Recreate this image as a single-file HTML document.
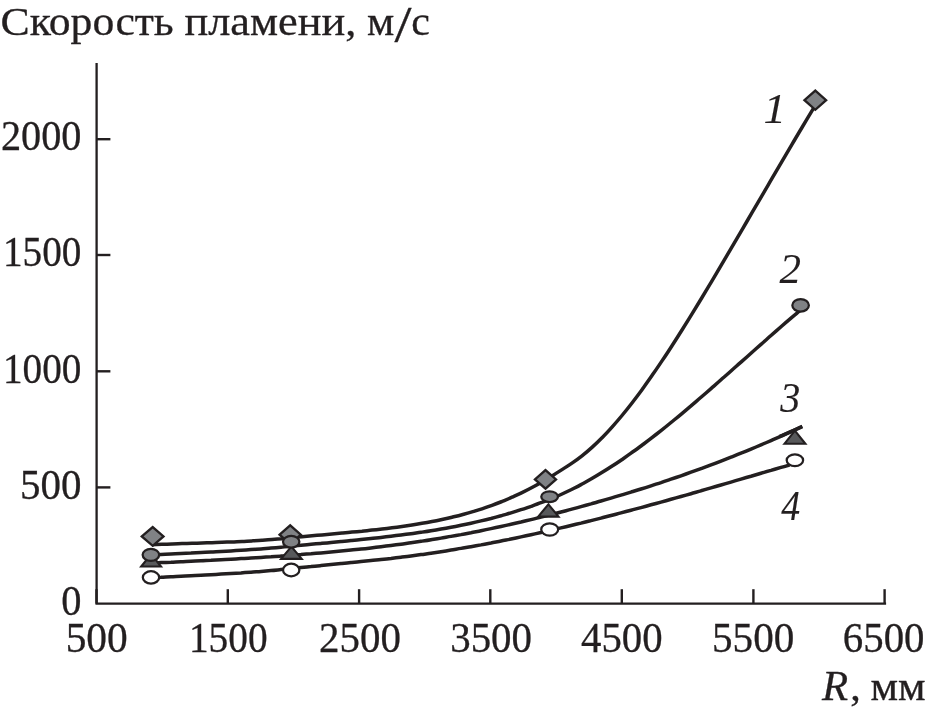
<!DOCTYPE html>
<html lang="ru"><head><meta charset="utf-8"><title>Скорость пламени</title>
<style>
html,body{margin:0;padding:0;background:#fff;}
svg{display:block;}
text{font-family:"Liberation Serif",serif;fill:#231f20;stroke:#231f20;stroke-width:0.3px;}
</style></head>
<body>
<svg width="926" height="713" viewBox="0 0 926 713">
<rect width="926" height="713" fill="#fff"/>
<path d="M96.6,62.9 V603.7 H886.1" fill="none" stroke="#231f20" stroke-width="2.3" stroke-linejoin="miter"/>
<line x1="96.6" y1="139.2" x2="110.4" y2="139.2" stroke="#231f20" stroke-width="2.4"/>
<line x1="96.6" y1="255.0" x2="110.4" y2="255.0" stroke="#231f20" stroke-width="2.4"/>
<line x1="96.6" y1="371.3" x2="110.4" y2="371.3" stroke="#231f20" stroke-width="2.4"/>
<line x1="96.6" y1="487.4" x2="110.4" y2="487.4" stroke="#231f20" stroke-width="2.4"/>
<line x1="96.5" y1="589.2" x2="96.5" y2="603.7" stroke="#231f20" stroke-width="2.4"/>
<line x1="227.8" y1="589.2" x2="227.8" y2="603.7" stroke="#231f20" stroke-width="2.4"/>
<line x1="359.1" y1="589.2" x2="359.1" y2="603.7" stroke="#231f20" stroke-width="2.4"/>
<line x1="490.3" y1="589.2" x2="490.3" y2="603.7" stroke="#231f20" stroke-width="2.4"/>
<line x1="621.8" y1="589.2" x2="621.8" y2="603.7" stroke="#231f20" stroke-width="2.4"/>
<line x1="753.4" y1="589.2" x2="753.4" y2="603.7" stroke="#231f20" stroke-width="2.4"/>
<line x1="884.6" y1="589.2" x2="884.6" y2="603.7" stroke="#231f20" stroke-width="2.4"/>
<path d="M152.0,544.7 C153.7,544.6 158.7,544.4 162.0,544.3 C165.3,544.2 168.7,544.1 172.0,544.0 C175.3,543.9 178.7,543.8 182.0,543.6 C185.3,543.5 188.7,543.4 192.0,543.3 C195.3,543.2 198.7,543.1 202.0,543.0 C205.3,542.9 208.7,542.8 212.0,542.7 C215.3,542.5 218.7,542.4 222.0,542.3 C225.3,542.2 228.7,542.0 232.0,541.9 C235.3,541.7 238.7,541.6 242.0,541.4 C245.3,541.2 248.7,541.1 252.0,540.9 C255.3,540.7 258.7,540.5 262.0,540.2 C265.3,540.0 268.7,539.8 272.0,539.5 C275.3,539.2 278.8,538.9 282.0,538.7 C285.2,538.4 289.8,537.9 291.5,537.7 C293.2,537.6 290.2,537.9 292.0,537.7 C293.8,537.5 298.7,537.0 302.0,536.7 C305.3,536.4 308.7,536.1 312.0,535.8 C315.3,535.5 318.7,535.2 322.0,534.9 C325.3,534.6 328.7,534.3 332.0,534.0 C335.3,533.7 338.7,533.4 342.0,533.1 C345.3,532.8 348.7,532.5 352.0,532.1 C355.3,531.8 358.7,531.5 362.0,531.2 C365.3,530.8 368.7,530.5 372.0,530.1 C375.3,529.8 378.7,529.4 382.0,529.0 C385.3,528.6 388.7,528.2 392.0,527.8 C395.3,527.4 398.7,526.9 402.0,526.5 C405.3,526.0 408.7,525.5 412.0,525.0 C415.3,524.5 418.7,523.9 422.0,523.3 C425.3,522.8 428.7,522.2 432.0,521.5 C435.3,520.9 438.7,520.2 442.0,519.5 C445.3,518.8 448.7,518.0 452.0,517.2 C455.3,516.4 458.7,515.6 462.0,514.7 C465.3,513.8 468.7,512.9 472.0,511.9 C475.3,510.9 478.7,509.9 482.0,508.8 C485.3,507.7 488.7,506.5 492.0,505.3 C495.3,504.1 498.7,502.8 502.0,501.5 C505.3,500.1 508.7,498.7 512.0,497.2 C515.3,495.7 518.7,494.2 522.0,492.6 C525.3,491.0 528.7,489.3 532.0,487.5 C535.3,485.7 539.1,483.6 542.0,481.9 C544.9,480.2 547.9,478.4 549.6,477.3 C551.3,476.3 549.9,477.1 552.0,475.9 C554.1,474.6 558.7,471.8 562.0,469.6 C565.3,467.5 568.7,465.4 572.0,463.1 C575.3,460.8 578.7,458.4 582.0,455.8 C585.3,453.2 588.7,450.4 592.0,447.4 C595.3,444.4 598.7,441.2 602.0,437.8 C605.3,434.4 608.7,430.9 612.0,427.1 C615.3,423.4 618.7,419.5 622.0,415.5 C625.3,411.5 628.7,407.3 632.0,403.0 C635.3,398.7 638.7,394.2 642.0,389.7 C645.3,385.1 648.7,380.4 652.0,375.6 C655.3,370.8 658.7,365.9 662.0,360.9 C665.3,356.0 668.7,350.9 672.0,345.7 C675.3,340.6 678.7,335.3 682.0,330.0 C685.3,324.7 688.7,319.3 692.0,313.9 C695.3,308.5 698.7,303.0 702.0,297.5 C705.3,291.9 708.7,286.4 712.0,280.8 C715.3,275.2 718.7,269.5 722.0,263.9 C725.3,258.2 728.7,252.6 732.0,246.9 C735.3,241.2 738.7,235.5 742.0,229.8 C745.3,224.1 748.7,218.4 752.0,212.7 C755.3,207.0 758.7,201.3 762.0,195.6 C765.3,189.8 768.7,184.1 772.0,178.4 C775.3,172.7 778.7,167.0 782.0,161.3 C785.3,155.7 788.7,150.0 792.0,144.4 C795.3,138.7 798.4,133.5 802.0,127.5 C805.6,121.4 811.7,111.3 813.6,108.1" fill="none" stroke="#231f20" stroke-width="3.5" stroke-linecap="butt"/>
<path d="M151.0,555.1 C152.7,555.0 157.7,554.7 161.0,554.5 C164.3,554.4 167.7,554.2 171.0,554.0 C174.3,553.9 177.7,553.7 181.0,553.5 C184.3,553.4 187.7,553.2 191.0,553.1 C194.3,552.9 197.7,552.7 201.0,552.5 C204.3,552.4 207.7,552.2 211.0,552.0 C214.3,551.8 217.7,551.7 221.0,551.5 C224.3,551.3 227.7,551.1 231.0,550.9 C234.3,550.7 237.7,550.5 241.0,550.3 C244.3,550.1 247.7,549.8 251.0,549.6 C254.3,549.4 257.7,549.1 261.0,548.9 C264.3,548.6 267.7,548.4 271.0,548.1 C274.3,547.8 277.7,547.5 281.0,547.2 C284.3,546.9 289.2,546.4 291.0,546.3 C292.8,546.1 290.3,546.3 292.0,546.2 C293.7,546.0 297.8,545.6 301.0,545.3 C304.2,545.0 307.7,544.6 311.0,544.3 C314.3,544.0 317.7,543.7 321.0,543.4 C324.3,543.1 327.7,542.8 331.0,542.4 C334.3,542.1 337.7,541.8 341.0,541.5 C344.3,541.2 347.7,540.9 351.0,540.5 C354.3,540.2 357.7,539.9 361.0,539.5 C364.3,539.2 367.7,538.8 371.0,538.5 C374.3,538.1 377.7,537.8 381.0,537.4 C384.3,537.0 387.7,536.6 391.0,536.2 C394.3,535.8 397.7,535.4 401.0,535.0 C404.3,534.6 407.7,534.1 411.0,533.7 C414.3,533.2 417.7,532.8 421.0,532.3 C424.3,531.8 427.7,531.3 431.0,530.7 C434.3,530.2 437.7,529.6 441.0,529.1 C444.3,528.5 447.7,527.9 451.0,527.3 C454.3,526.7 457.7,526.0 461.0,525.3 C464.3,524.7 467.7,524.0 471.0,523.2 C474.3,522.5 477.7,521.7 481.0,520.9 C484.3,520.1 487.7,519.3 491.0,518.5 C494.3,517.6 497.7,516.7 501.0,515.8 C504.3,514.8 507.7,513.9 511.0,512.9 C514.3,511.9 517.7,510.8 521.0,509.7 C524.3,508.7 527.7,507.5 531.0,506.4 C534.3,505.2 537.9,503.9 541.0,502.7 C544.1,501.6 547.9,500.0 549.6,499.4 C551.3,498.7 549.1,499.6 551.0,498.8 C552.9,498.0 557.7,496.0 561.0,494.5 C564.3,493.0 567.7,491.4 571.0,489.8 C574.3,488.1 577.7,486.4 581.0,484.6 C584.3,482.8 587.7,481.0 591.0,479.1 C594.3,477.2 597.7,475.2 601.0,473.1 C604.3,471.1 607.7,469.0 611.0,466.8 C614.3,464.7 617.7,462.5 621.0,460.2 C624.3,457.9 627.7,455.6 631.0,453.2 C634.3,450.9 637.7,448.4 641.0,446.0 C644.3,443.5 647.7,441.0 651.0,438.4 C654.3,435.8 657.7,433.2 661.0,430.6 C664.3,428.0 667.7,425.3 671.0,422.5 C674.3,419.8 677.7,417.1 681.0,414.3 C684.3,411.5 687.7,408.7 691.0,405.9 C694.3,403.0 697.7,400.2 701.0,397.3 C704.3,394.4 707.7,391.5 711.0,388.6 C714.3,385.7 717.7,382.8 721.0,379.8 C724.3,376.9 727.7,374.0 731.0,371.0 C734.3,368.0 737.7,365.1 741.0,362.1 C744.3,359.2 747.7,356.2 751.0,353.2 C754.3,350.3 757.7,347.3 761.0,344.4 C764.3,341.4 767.7,338.5 771.0,335.5 C774.3,332.6 777.7,329.7 781.0,326.8 C784.3,323.9 787.8,320.9 791.0,318.2 C794.2,315.4 798.9,311.4 800.5,310.1" fill="none" stroke="#231f20" stroke-width="3.5" stroke-linecap="butt"/>
<path d="M151.0,563.1 C152.7,563.0 157.7,562.8 161.0,562.6 C164.3,562.5 167.7,562.3 171.0,562.2 C174.3,562.0 177.7,561.9 181.0,561.7 C184.3,561.5 187.7,561.4 191.0,561.2 C194.3,561.1 197.7,560.9 201.0,560.7 C204.3,560.6 207.7,560.4 211.0,560.3 C214.3,560.1 217.7,559.9 221.0,559.7 C224.3,559.6 227.7,559.4 231.0,559.2 C234.3,559.0 237.7,558.8 241.0,558.6 C244.3,558.4 247.7,558.3 251.0,558.0 C254.3,557.8 257.7,557.6 261.0,557.4 C264.3,557.2 267.7,557.0 271.0,556.8 C274.3,556.5 277.7,556.3 281.0,556.1 C284.3,555.8 289.2,555.5 291.0,555.3 C292.8,555.2 290.3,555.4 292.0,555.3 C293.7,555.1 297.8,554.8 301.0,554.6 C304.2,554.3 307.7,554.0 311.0,553.8 C314.3,553.5 317.7,553.2 321.0,552.9 C324.3,552.6 327.7,552.3 331.0,552.0 C334.3,551.7 337.7,551.4 341.0,551.1 C344.3,550.8 347.7,550.4 351.0,550.1 C354.3,549.7 357.7,549.4 361.0,549.0 C364.3,548.7 367.7,548.3 371.0,547.9 C374.3,547.5 377.7,547.1 381.0,546.7 C384.3,546.3 387.7,545.9 391.0,545.5 C394.3,545.1 397.7,544.6 401.0,544.2 C404.3,543.7 407.7,543.3 411.0,542.8 C414.3,542.3 417.7,541.8 421.0,541.3 C424.3,540.8 427.7,540.3 431.0,539.7 C434.3,539.2 437.7,538.7 441.0,538.1 C444.3,537.5 447.7,537.0 451.0,536.4 C454.3,535.8 457.7,535.2 461.0,534.6 C464.3,533.9 467.7,533.3 471.0,532.7 C474.3,532.0 477.7,531.4 481.0,530.7 C484.3,530.0 487.7,529.3 491.0,528.6 C494.3,527.9 497.7,527.2 501.0,526.5 C504.3,525.8 507.7,525.0 511.0,524.3 C514.3,523.5 517.7,522.7 521.0,522.0 C524.3,521.2 527.7,520.4 531.0,519.6 C534.3,518.8 538.0,517.9 541.0,517.1 C544.0,516.4 547.3,515.5 549.0,515.1 C550.7,514.7 549.0,515.1 551.0,514.6 C553.0,514.1 557.7,512.9 561.0,512.0 C564.3,511.1 567.7,510.3 571.0,509.4 C574.3,508.5 577.7,507.6 581.0,506.6 C584.3,505.7 587.7,504.8 591.0,503.9 C594.3,502.9 597.7,502.0 601.0,501.0 C604.3,500.1 607.7,499.1 611.0,498.1 C614.3,497.2 617.7,496.2 621.0,495.2 C624.3,494.2 627.7,493.2 631.0,492.1 C634.3,491.1 637.7,490.1 641.0,489.0 C644.3,488.0 647.7,486.9 651.0,485.8 C654.3,484.7 657.7,483.7 661.0,482.6 C664.3,481.4 667.7,480.3 671.0,479.2 C674.3,478.1 677.7,476.9 681.0,475.8 C684.3,474.6 687.7,473.4 691.0,472.2 C694.3,471.0 697.7,469.8 701.0,468.6 C704.3,467.4 707.7,466.2 711.0,464.9 C714.3,463.7 717.7,462.4 721.0,461.1 C724.3,459.8 727.7,458.5 731.0,457.2 C734.3,455.9 737.7,454.6 741.0,453.2 C744.3,451.9 747.7,450.5 751.0,449.1 C754.3,447.7 757.7,446.3 761.0,444.9 C764.3,443.5 767.7,442.0 771.0,440.6 C774.3,439.1 777.7,437.7 781.0,436.2 C784.3,434.7 787.5,433.3 791.0,431.6 C794.5,430.0 800.4,427.2 802.3,426.4" fill="none" stroke="#231f20" stroke-width="3.5" stroke-linecap="butt"/>
<path d="M151.0,577.7 C152.7,577.6 157.7,577.3 161.0,577.2 C164.3,577.0 167.7,576.9 171.0,576.7 C174.3,576.5 177.7,576.4 181.0,576.2 C184.3,576.1 187.7,575.9 191.0,575.7 C194.3,575.6 197.7,575.4 201.0,575.2 C204.3,575.1 207.7,574.9 211.0,574.7 C214.3,574.5 217.7,574.3 221.0,574.1 C224.3,573.9 227.7,573.7 231.0,573.5 C234.3,573.3 237.7,573.1 241.0,572.9 C244.3,572.6 247.7,572.4 251.0,572.2 C254.3,571.9 257.7,571.7 261.0,571.4 C264.3,571.1 267.7,570.8 271.0,570.5 C274.3,570.3 277.7,569.9 281.0,569.6 C284.3,569.3 289.2,568.8 291.0,568.6 C292.8,568.4 290.3,568.7 292.0,568.5 C293.7,568.3 297.8,567.9 301.0,567.6 C304.2,567.3 307.7,566.9 311.0,566.6 C314.3,566.2 317.7,565.9 321.0,565.6 C324.3,565.3 327.7,564.9 331.0,564.6 C334.3,564.3 337.7,563.9 341.0,563.6 C344.3,563.3 347.7,563.0 351.0,562.6 C354.3,562.3 357.7,562.0 361.0,561.6 C364.3,561.3 367.7,560.9 371.0,560.6 C374.3,560.2 377.7,559.9 381.0,559.5 C384.3,559.1 387.7,558.7 391.0,558.4 C394.3,558.0 397.7,557.6 401.0,557.2 C404.3,556.8 407.7,556.4 411.0,555.9 C414.3,555.5 417.7,555.0 421.0,554.6 C424.3,554.1 427.7,553.7 431.0,553.2 C434.3,552.7 437.7,552.2 441.0,551.7 C444.3,551.2 447.7,550.6 451.0,550.1 C454.3,549.5 457.7,549.0 461.0,548.4 C464.3,547.8 467.7,547.3 471.0,546.7 C474.3,546.1 477.7,545.5 481.0,544.9 C484.3,544.2 487.7,543.6 491.0,543.0 C494.3,542.3 497.7,541.7 501.0,541.0 C504.3,540.3 507.7,539.7 511.0,539.0 C514.3,538.3 517.7,537.6 521.0,536.9 C524.3,536.2 527.7,535.4 531.0,534.7 C534.3,534.0 537.9,533.2 541.0,532.5 C544.1,531.8 548.0,530.9 549.7,530.5 C551.4,530.1 549.1,530.7 551.0,530.2 C552.9,529.8 557.7,528.7 561.0,527.9 C564.3,527.1 567.7,526.3 571.0,525.5 C574.3,524.7 577.7,523.9 581.0,523.1 C584.3,522.2 587.7,521.4 591.0,520.6 C594.3,519.8 597.7,518.9 601.0,518.1 C604.3,517.2 607.7,516.4 611.0,515.5 C614.3,514.6 617.7,513.8 621.0,512.9 C624.3,512.0 627.7,511.1 631.0,510.2 C634.3,509.3 637.7,508.5 641.0,507.6 C644.3,506.7 647.7,505.7 651.0,504.8 C654.3,503.9 657.7,503.0 661.0,502.1 C664.3,501.2 667.7,500.2 671.0,499.3 C674.3,498.4 677.7,497.4 681.0,496.5 C684.3,495.6 687.7,494.6 691.0,493.7 C694.3,492.7 697.7,491.8 701.0,490.8 C704.3,489.9 707.7,488.9 711.0,487.9 C714.3,487.0 717.7,486.0 721.0,485.0 C724.3,484.1 727.7,483.1 731.0,482.1 C734.3,481.2 737.7,480.2 741.0,479.2 C744.3,478.2 747.7,477.2 751.0,476.3 C754.3,475.3 757.7,474.3 761.0,473.3 C764.3,472.3 767.7,471.3 771.0,470.4 C774.3,469.4 777.9,468.3 781.0,467.4 C784.1,466.5 788.2,465.3 789.6,464.8" fill="none" stroke="#231f20" stroke-width="3.5" stroke-linecap="butt"/>
<polygon points="141.2,566.5 151.1,554.2 161.0,566.5" fill="#58595b" stroke="#231f20" stroke-width="2.1"/>
<polygon points="281.1,558.9 291.4,546.6 301.7,558.9" fill="#58595b" stroke="#231f20" stroke-width="2.1"/>
<polygon points="538.2,516.6 548.4,504.3 558.5,516.6" fill="#58595b" stroke="#231f20" stroke-width="2.1"/>
<polygon points="784.4,443.8 794.9,430.7 805.4,443.8" fill="#58595b" stroke="#231f20" stroke-width="2.1"/>
<path d="M779.4,436.6 L802.3,426.6" fill="none" stroke="#231f20" stroke-width="3.5"/>
<polygon points="141.8,536.4 152.7,527.0 163.5,536.4 152.7,545.8" fill="#808285" stroke="#231f20" stroke-width="2.35" stroke-linejoin="miter"/>
<polygon points="279.6,534.7 290.2,525.3 300.8,534.7 290.2,544.1" fill="#808285" stroke="#231f20" stroke-width="2.35" stroke-linejoin="miter"/>
<polygon points="535.0,479.4 545.5,470.1 556.0,479.4 545.5,488.6" fill="#808285" stroke="#231f20" stroke-width="2.35" stroke-linejoin="miter"/>
<polygon points="804.5,100.2 815.3,90.6 826.1,100.2 815.3,109.8" fill="#808285" stroke="#231f20" stroke-width="2.35" stroke-linejoin="miter"/>
<ellipse cx="150.9" cy="554.8" rx="8.28" ry="6.03" fill="#808285" stroke="#231f20" stroke-width="2.25"/>
<ellipse cx="291.2" cy="541.7" rx="8.18" ry="5.83" fill="#808285" stroke="#231f20" stroke-width="2.25"/>
<ellipse cx="549.6" cy="496.7" rx="8.33" ry="5.43" fill="#808285" stroke="#231f20" stroke-width="2.25"/>
<ellipse cx="800.6" cy="305.3" rx="8.28" ry="6.28" fill="#808285" stroke="#231f20" stroke-width="2.25"/>
<ellipse cx="151.0" cy="577.4" rx="8.18" ry="6.18" fill="#fff" stroke="#231f20" stroke-width="2.25"/>
<ellipse cx="291.2" cy="570.0" rx="8.18" ry="6.33" fill="#fff" stroke="#231f20" stroke-width="2.25"/>
<ellipse cx="549.7" cy="529.5" rx="8.47" ry="6.12" fill="#fff" stroke="#231f20" stroke-width="2.25"/>
<ellipse cx="794.9" cy="460.2" rx="8.22" ry="5.83" fill="#fff" stroke="#231f20" stroke-width="2.25"/>
<text y="34.9" font-size="40.8" xml:space="preserve"><tspan x="0.63" textLength="173.18" lengthAdjust="spacingAndGlyphs">Скорость</tspan> <tspan x="184.51" textLength="171.87" lengthAdjust="spacingAndGlyphs">пламени,</tspan> <tspan x="366.93" textLength="27.28" lengthAdjust="spacingAndGlyphs">м</tspan><tspan x="394.40" textLength="16.99" lengthAdjust="spacingAndGlyphs" font-size="50.5" dy="6.3">/</tspan><tspan x="411.29" textLength="18.63" lengthAdjust="spacingAndGlyphs" dy="-6.3">с</tspan></text>
<text transform="translate(0.94,149.7) scale(0.9819,1.025)" font-size="41">2000</text>
<text transform="translate(2.93,266.0) scale(0.9572,1.025)" font-size="41">1500</text>
<text transform="translate(2.93,382.6) scale(0.9572,1.025)" font-size="41">1000</text>
<text transform="translate(19.98,498.8) scale(1.0001,1.025)" font-size="41">500</text>
<text transform="translate(61.24,614.6) scale(0.9868,1.025)" font-size="41">0</text>
<text transform="translate(65.66,652.2) scale(1.0103,1.025)" font-size="41">500</text>
<text transform="translate(188.93,652.2) scale(0.9598,1.025)" font-size="41">1500</text>
<text transform="translate(318.92,652.2) scale(0.9995,1.025)" font-size="41">2500</text>
<text transform="translate(450.18,652.2) scale(0.9988,1.025)" font-size="41">3500</text>
<text transform="translate(581.06,652.2) scale(0.9953,1.025)" font-size="41">4500</text>
<text transform="translate(712.07,652.2) scale(1.0026,1.025)" font-size="41">5500</text>
<text transform="translate(842.82,652.2) scale(0.9958,1.025)" font-size="41">6500</text>
<text transform="translate(763.60,123) scale(1.0927,1.025)" font-size="41" font-style="italic" style="stroke-width:0.1px">1</text>
<text transform="translate(779.40,283.3) scale(1.0474,1.025)" font-size="41" font-style="italic" style="stroke-width:0.1px">2</text>
<text transform="translate(780.23,411.5) scale(0.9769,1.025)" font-size="41" font-style="italic" style="stroke-width:0.1px">3</text>
<text transform="translate(781.20,519.8) scale(0.9215,1.025)" font-size="41" font-style="italic" style="stroke-width:0.1px">4</text>
<text y="700.2" font-size="41" xml:space="preserve"><tspan x="822.07" textLength="26.19" lengthAdjust="spacingAndGlyphs" font-style="italic" font-size="43">R</tspan><tspan x="850.28" textLength="10.56" lengthAdjust="spacingAndGlyphs">,</tspan> <tspan x="870.52" textLength="55.10" lengthAdjust="spacingAndGlyphs" font-size="39">мм</tspan></text>
</svg>
</body></html>
